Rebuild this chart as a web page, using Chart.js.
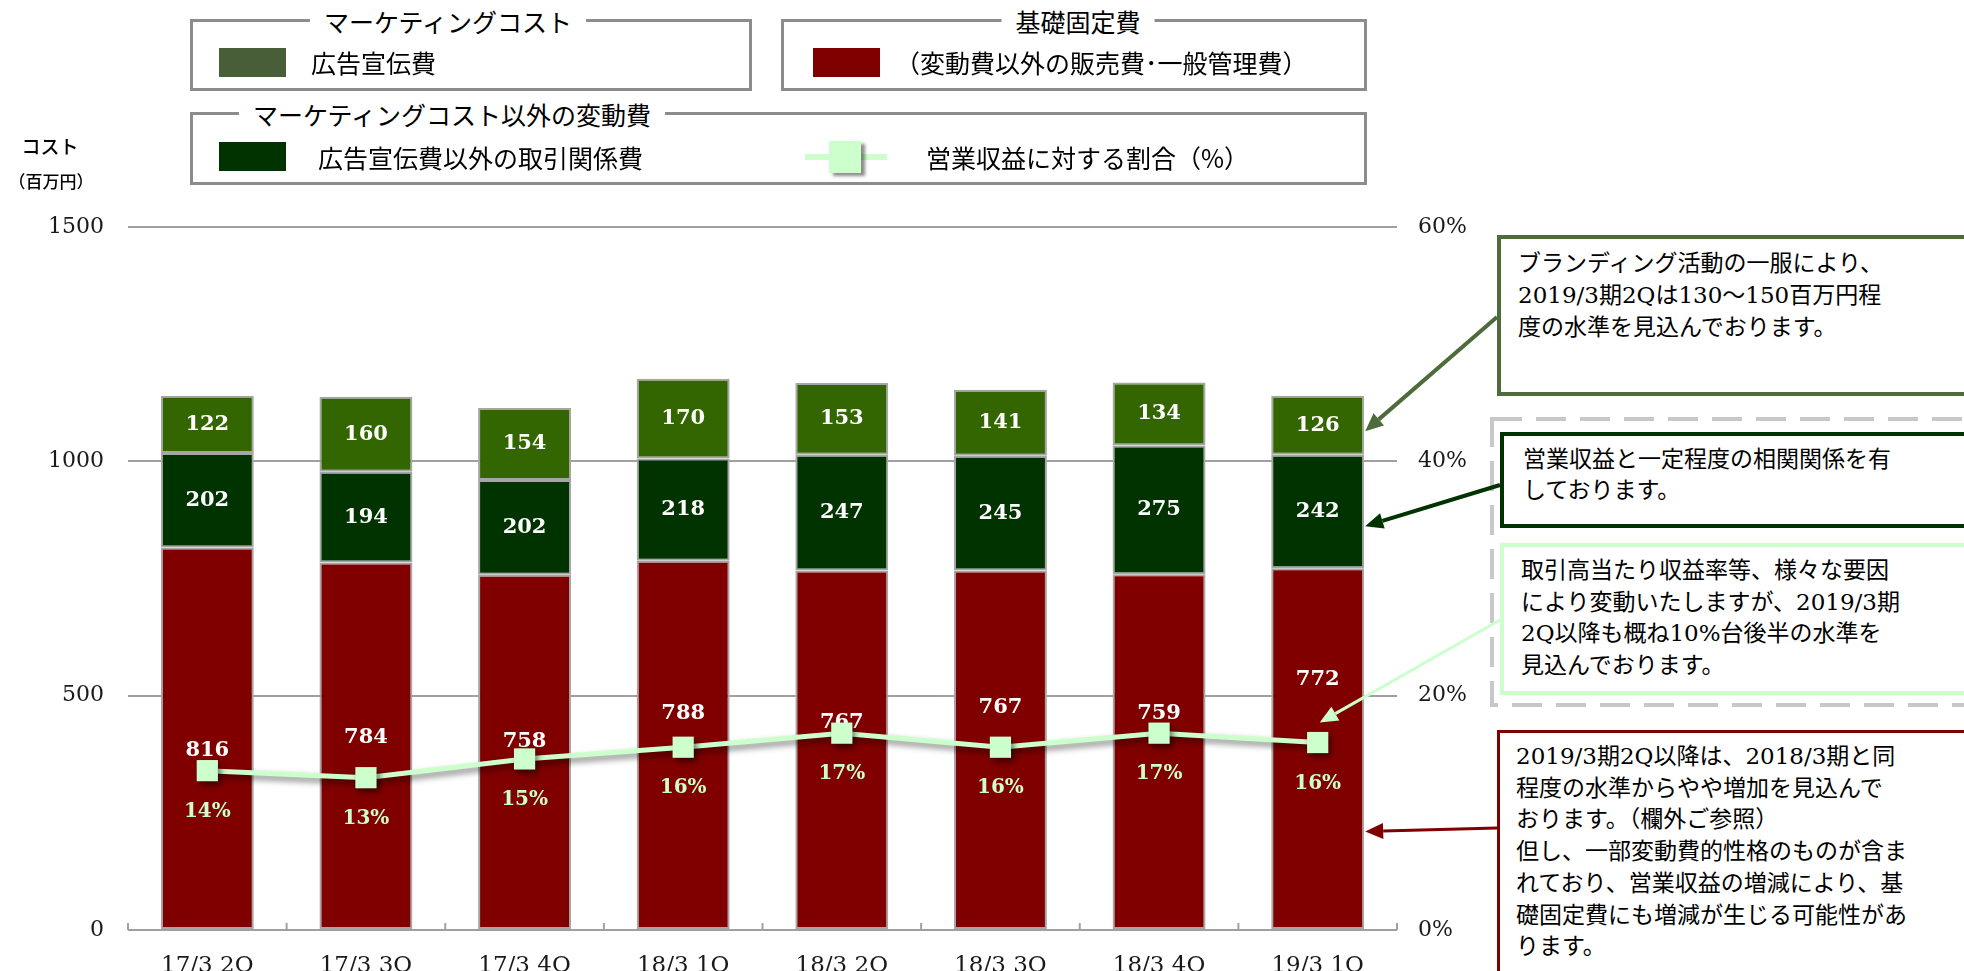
<!DOCTYPE html>
<html lang="ja">
<head>
<meta charset="utf-8">
<title>コスト推移</title>
<script src="https://cdn.jsdelivr.net/npm/chart.js@4.4.1/dist/chart.umd.min.js"></script>
<style>
    body { margin: 0; background: #fff; }
    #wrap { position: relative; width: 1964px; height: 971px; overflow: hidden; font-family: "Noto Sans CJK JP", sans-serif; color: #000; }
    #chart { position: absolute; left: 0; top: 0; }
    .frame { position: absolute; box-sizing: border-box; border: 3px solid #8c8c8c; }
    .ttl { position: absolute; transform: translate(-50%, -50%); background: #fff; padding: 0 14px; font-size: 25px; white-space: nowrap; }
    .sw { position: absolute; }
    .lt { position: absolute; transform: translateY(-50%); font-size: 25px; white-space: nowrap; }
    .note { position: absolute; box-sizing: border-box; background: #fff; border-style: solid; }
    .ntext { position: absolute; font-family: "DejaVu Serif", "Noto Sans CJK JP", serif; font-size: 23px; white-space: pre; }
    .unit { position: absolute; transform: translate(-50%, -50%); white-space: nowrap; font-weight: 500; }
</style>
</head>
<body>
<div id="wrap">
    <canvas id="chart" width="1964" height="971"></canvas>

    <!-- 凡例 -->
    <div class="frame" style="left:190px;top:19px;width:562px;height:72px"></div>
    <span class="ttl" style="left:448px;top:21px">マーケティングコスト</span>
    <div class="sw" style="left:219px;top:48px;width:67px;height:29px;background:#475e39"></div>
    <span class="lt" style="left:311px;top:62px">広告宣伝費</span>

    <div class="frame" style="left:781px;top:19px;width:586px;height:72px"></div>
    <span class="ttl" style="left:1078px;top:21px">基礎固定費</span>
    <div class="sw" style="left:813px;top:48px;width:67px;height:29px;background:#800000"></div>
    <span class="lt" style="left:895px;top:62px">（変動費以外の販売費･一般管理費）</span>

    <div class="frame" style="left:190px;top:112px;width:1177px;height:73px"></div>
    <span class="ttl" style="left:452px;top:114px">マーケティングコスト以外の変動費</span>
    <div class="sw" style="left:219px;top:142px;width:67px;height:29px;background:#003300"></div>
    <span class="lt" style="left:318px;top:157px">広告宣伝費以外の取引関係費</span>
    <div class="sw" style="left:805px;top:154px;width:82px;height:6px;background:#ccffcc"></div>
    <div class="sw" style="left:829px;top:141px;width:32px;height:32px;background:#ccffcc;box-shadow:4px 3px 3px rgba(0,0,0,0.45)"></div>
    <span class="lt" style="left:926px;top:157px">営業収益に対する割合（%）</span>

    <!-- 単位 -->
    <span class="unit" style="left:50px;top:145px;font-size:19px">コスト</span>
    <span class="unit" style="left:51px;top:180px;font-size:17px">（百万円）</span>

    <!-- 注記 -->
    <div class="note" style="left:1497px;top:235px;width:490px;height:161px;border-width:4px;border-color:#4e6b3c"></div>
    <div class="ntext" style="left:1518px;top:247px;line-height:32px">ブランディング活動の一服により、
2019/3期2Qは130～150百万円程
度の水準を見込んでおります。</div>

    <div class="note" style="left:1500px;top:432px;width:490px;height:96px;border-width:4px;border-color:#003300"></div>
    <div class="ntext" style="left:1523px;top:444px;line-height:31px">営業収益と一定程度の相関関係を有
しております。</div>

    <div class="note" style="left:1500px;top:543px;width:490px;height:152px;border-width:4px;border-color:#ccffcc"></div>
    <div class="ntext" style="left:1521px;top:555px;line-height:31.5px">取引高当たり収益率等、様々な要因
により変動いたしますが、2019/3期
2Q以降も概ね10%台後半の水準を
見込んでおります。</div>

    <div class="note" style="left:1497px;top:730px;width:490px;height:250px;border-width:3px;border-color:#800000"></div>
    <div class="ntext" style="left:1516px;top:741px;line-height:31.7px">2019/3期2Q以降は、2018/3期と同
程度の水準からやや増加を見込んで
おります。（欄外ご参照）
但し、一部変動費的性格のものが含ま
れており、営業収益の増減により、基
礎固定費にも増減が生じる可能性があ
ります。</div>
</div>

<script>
const categories = ['17/3 2Q', '17/3 3Q', '17/3 4Q', '18/3 1Q', '18/3 2Q', '18/3 3Q', '18/3 4Q', '19/3 1Q'];
const fixedCost = [816, 784, 758, 788, 767, 767, 759, 772];     // 基礎固定費
const tradeCost = [202, 194, 202, 218, 247, 245, 275, 242];     // 広告宣伝費以外の取引関係費
const adCost = [122, 160, 154, 170, 153, 141, 134, 126];        // 広告宣伝費
const revenueRatio = [13.6, 13.0, 14.6, 15.6, 16.8, 15.6, 16.8, 16.0]; // 営業収益に対する割合(%)
const costTicks = [0, 500, 1000, 1500];
const ratioTicks = [0, 20, 40, 60];

// 基礎固定費ラベルを折れ線から少しずらす（px）
const fixedLabelShift = [-20, -40, -17, -34, -11, -40, -20, -63];

const serif = '"DejaVu Serif", "Liberation Serif", serif';

function arrow(ctx, x1, y1, x2, y2, color, width) {
    const ang = Math.atan2(y2 - y1, x2 - x1);
    const len = 18, half = 8;
    const bx = x2 - len * Math.cos(ang), by = y2 - len * Math.sin(ang);
    ctx.save();
    ctx.strokeStyle = color;
    ctx.fillStyle = color;
    ctx.lineWidth = width;
    ctx.beginPath();
    ctx.moveTo(x1, y1);
    ctx.lineTo(bx, by);
    ctx.stroke();
    ctx.beginPath();
    ctx.moveTo(x2, y2);
    ctx.lineTo(bx + half * Math.sin(ang), by - half * Math.cos(ang));
    ctx.lineTo(bx - half * Math.sin(ang), by + half * Math.cos(ang));
    ctx.closePath();
    ctx.fill();
    ctx.restore();
}

const labelPlugin = {
    id: 'labels',
    beforeDatasetDraw(chart, args) {
        if (args.index !== 3) return;
        const ctx = chart.ctx;
        const pts = chart.getDatasetMeta(3).data;
        ctx.save();
        ctx.font = 'bold 21px ' + serif;
        ctx.fillStyle = '#ffffff';
        ctx.textAlign = 'center';
        ctx.textBaseline = 'middle';
        [1, 2].forEach(d => {
            chart.getDatasetMeta(d).data.forEach((bar, i) => {
                ctx.fillText(chart.data.datasets[d].data[i], bar.x, (bar.y + bar.base) / 2);
            });
        });
        chart.getDatasetMeta(0).data.forEach((bar, i) => {
            ctx.fillText(fixedCost[i], bar.x, pts[i].y + fixedLabelShift[i]);
        });
        ctx.restore();
        // 折れ線の影
        ctx.save();
        ctx.shadowColor = 'rgba(0,0,0,0.5)';
        ctx.shadowBlur = 6;
        ctx.shadowOffsetX = 3;
        ctx.shadowOffsetY = 4;
    },
    afterDatasetDraw(chart, args) {
        if (args.index !== 3) return;
        const ctx = chart.ctx;
        ctx.restore();
        ctx.save();
        ctx.font = 'bold 20px ' + serif;
        ctx.fillStyle = '#ccffcc';
        ctx.textAlign = 'center';
        ctx.textBaseline = 'middle';
        chart.getDatasetMeta(3).data.forEach((pt, i) => {
            ctx.fillText(Math.round(revenueRatio[i]) + '%', pt.x, pt.y + 41);
        });
        ctx.restore();
    },
    afterDraw(chart) {
        const ctx = chart.ctx;
        const x = chart.scales.x;
        const base = chart.scales.y.getPixelForValue(0);
        const step = x.width / categories.length;

        // 区切りの目盛り（内向き）
        ctx.save();
        ctx.strokeStyle = '#a0a0a0';
        ctx.lineWidth = 2;
        for (let k = 0; k <= categories.length; k++) {
            const px = x.left + k * step;
            ctx.beginPath();
            ctx.moveTo(px, base);
            ctx.lineTo(px, base - 7);
            ctx.stroke();
        }

        // 点線の枠
        ctx.strokeStyle = '#c8c8c8';
        ctx.lineWidth = 4;
        ctx.setLineDash([30, 14]);
        ctx.strokeRect(1492, 419, 520, 286);
        ctx.restore();

        // 注記の矢印
        const last = categories.length - 1;
        const red = chart.getDatasetMeta(0).data[last];
        const mid = chart.getDatasetMeta(1).data[last];
        const top = chart.getDatasetMeta(2).data[last];
        const pt = chart.getDatasetMeta(3).data[last];
        const edge = red.x + red.width / 2 + 1;
        arrow(ctx, 1497, 317, edge, top.y + 0.6 * (top.base - top.y), '#4e6b3c', 4);
        arrow(ctx, 1500, 485, edge, mid.y + 0.63 * (mid.base - mid.y), '#003300', 4);
        arrow(ctx, 1500, 620, pt.x + 2, pt.y - 20, '#ccffcc', 3);
        arrow(ctx, 1497, 828, edge, red.y + 0.73 * (red.base - red.y), '#800000', 3);
    }
};

const ctx = document.getElementById('chart').getContext('2d');
new Chart(ctx, {
    data: {
        labels: categories,
        datasets: [
            { type: 'bar', label: '基礎固定費', data: fixedCost, backgroundColor: '#800000', order: 1 },
            { type: 'bar', label: '広告宣伝費以外の取引関係費', data: tradeCost, backgroundColor: '#003300', order: 1 },
            { type: 'bar', label: '広告宣伝費', data: adCost, backgroundColor: '#336600', order: 1 },
            {
                type: 'line',
                label: '営業収益に対する割合（%）',
                data: revenueRatio,
                yAxisID: 'y1',
                order: 0,
                borderColor: '#ccffcc',
                borderWidth: 5,
                backgroundColor: '#ccffcc',
                pointStyle: 'rect',
                pointRadius: 15,
                pointBorderWidth: 0,
                pointBackgroundColor: '#ccffcc',
                tension: 0
            }
        ]
    },
    options: {
        responsive: false,
        animation: false,
        events: [],
        layout: { padding: { top: 227, left: 0, right: 0, bottom: 0 } },
        datasets: {
            bar: {
                stack: 'cost',
                barPercentage: 0.586,
                categoryPercentage: 1,
                borderColor: '#a6a6a6',
                borderWidth: 2,
                borderSkipped: false
            }
        },
        scales: {
            x: {
                stacked: true,
                grid: { display: false },
                border: { display: false },
                ticks: { color: '#1a1a1a', font: { family: serif, size: 23 }, padding: 14, maxRotation: 0 },
                afterFit: s => { s.height = 41; }
            },
            y: {
                stacked: true,
                position: 'left',
                min: 0,
                max: 1500,
                afterBuildTicks: s => { s.ticks = costTicks.map(v => ({ value: v })); },
                grid: { color: '#a0a0a0', lineWidth: 2, drawTicks: false },
                border: { display: false },
                ticks: { color: '#1a1a1a', font: { family: serif, size: 22 }, padding: 24, callback: v => String(v) },
                afterFit: s => { s.width = 128; }
            },
            y1: {
                position: 'right',
                min: 0,
                max: 60,
                afterBuildTicks: s => { s.ticks = ratioTicks.map(v => ({ value: v })); },
                grid: { display: false, drawTicks: false },
                border: { display: false },
                ticks: { color: '#1a1a1a', font: { family: serif, size: 22 }, padding: 21, callback: v => v + '%' },
                afterFit: s => { s.width = 567; }
            }
        },
        plugins: {
            legend: { display: false },
            tooltip: { enabled: false }
        }
    },
    plugins: [labelPlugin]
});
</script>
</body>
</html>
